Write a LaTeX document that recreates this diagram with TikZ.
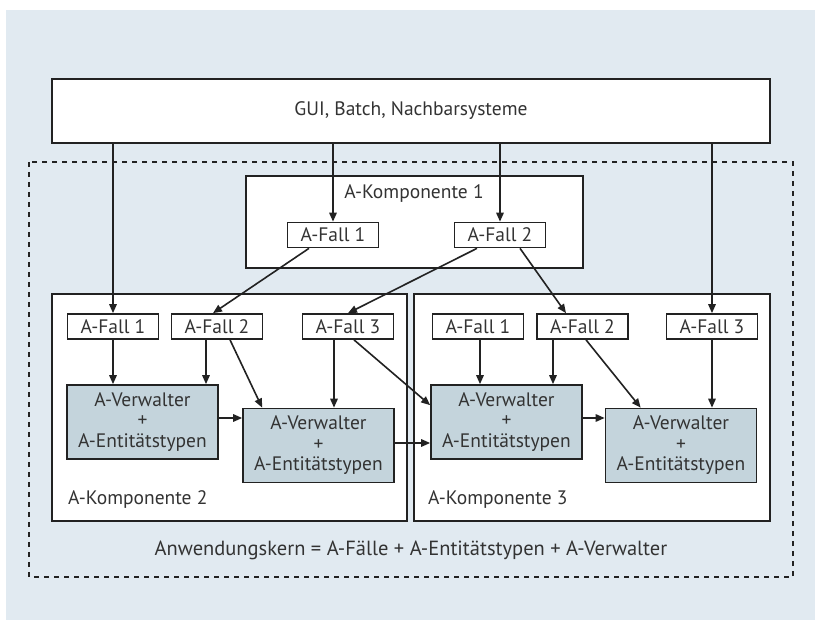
\documentclass[tikz,border=0pt]{standalone}
\usepackage{fontspec}
\setmainfont{PT Sans}
\usetikzlibrary{arrows.meta,calc}
\definecolor{bgblue}{HTML}{E1EAF1}
\definecolor{mgrfill}{HTML}{C4D4DC}
\definecolor{inkline}{HTML}{222222}
\definecolor{inktext}{HTML}{333333}
\tikzset{
  txt/.style={font=\fontsize{19.5}{21}\selectfont, text=inktext},
  plainbox/.style={draw=inkline, line width=1.7pt, fill=white, inner sep=0pt},
  fallbox/.style={plainbox, txt, minimum width=91pt, minimum height=25pt},
  compbox/.style={plainbox, minimum height=227pt},
  mgrbox/.style={draw=inkline, line width=1.7pt, fill=mgrfill, inner sep=0pt,
    txt, align=center, minimum width=151pt, minimum height=74pt,
    font=\fontsize{19.5}{20.5}\selectfont},
  arr/.style={draw=inkline, line width=1.6pt, -{Triangle[length=9pt,width=7.5pt]}},
}
\begin{document}
\begin{tikzpicture}[x=1pt,y=-1pt]
  \useasboundingbox (0,0) rectangle (815,620);
  % background panel
  \fill[bgblue] (6,10) rectangle (815,620);

  % outer system
  \node[plainbox, txt, minimum width=718pt, minimum height=64pt] (gui) at (411,111) {GUI, Batch, Nachbarsysteme};

  % application core boundary
  \draw[inkline, line width=1.4pt, dash pattern=on 5pt off 5pt] (29,162) rectangle (793,577);
  \node[txt, font=\fontsize{20.5}{22}\selectfont] (core) at (411,550) {Anwendungskern = A-Fälle + A-Entitätstypen + A-Verwalter};

  % component 1
  \node[plainbox, minimum width=337pt, minimum height=92pt] (k1) at (414.5,222) {};
  \node[txt] (k1lbl) at (414,194) {A-Komponente 1};
  \node[fallbox] (k1f1) at (333,235) {A-Fall 1};
  \node[fallbox] (k1f2) at (500,235) {A-Fall 2};

  % components 2 and 3
  \node[compbox, minimum width=355pt] (k2) at (229.5,407.5) {};
  \node[compbox, minimum width=356pt] (k3) at (592,407.5) {};
  \node[txt, anchor=base west, inner sep=0pt] (k2lbl) at (68,505) {A-Komponente 2};
  \node[txt, anchor=base west, inner sep=0pt] (k3lbl) at (428,505) {A-Komponente 3};

  % use cases of component 2
  \node[fallbox] (k2f1) at (113,326.5) {A-Fall 1};
  \node[fallbox] (k2f2) at (217,326.5) {A-Fall 2};
  \node[fallbox] (k2f3) at (348,326.5) {A-Fall 3};
  % use cases of component 3
  \node[fallbox] (k3f1) at (478,326.5) {A-Fall 1};
  \node[fallbox] (k3f2) at (582.5,326.5) {A-Fall 2};
  \node[fallbox] (k3f3) at (712,326.5) {A-Fall 3};

  % managers and entity types
  \node[mgrbox] (k2v1) at (142.5,422) {A-Verwalter\\+\\A-Entitätstypen};
  \node[mgrbox] (k2v2) at (318.5,445.5) {A-Verwalter\\+\\A-Entitätstypen};
  \node[mgrbox] (k3v1) at (506.5,422) {A-Verwalter\\+\\A-Entitätstypen};
  \node[mgrbox] (k3v2) at (681,445.5) {A-Verwalter\\+\\A-Entitätstypen};

  % calls from the outer systems
  \draw[arr] (gui.south -| k2f1.north) -- (k2f1.north);
  \draw[arr] (gui.south -| k1f1.north) -- (k1f1.north);
  \draw[arr] (gui.south -| k1f2.north) -- (k1f2.north);
  \draw[arr] (gui.south -| k3f3.north) -- (k3f3.north);

  % calls from component 1
  \draw[arr] ($(k1f1.south)+(-24,0)$) -- ($(k2f2.north)+(-4,0)$);
  \draw[arr] ($(k1f2.south)+(-23,0)$) -- (k2f3.north);
  \draw[arr] ($(k1f2.south)+(20,0)$) -- ($(k3f2.north)+(-16.5,0)$);

  % inside component 2
  \draw[arr] (k2f1.south) -- (k2f1.south |- k2v1.north);
  \draw[arr] ($(k2f2.south)+(-11,0)$) -- ($(k2f2.south |- k2v1.north)+(-11,0)$);
  \draw[arr] ($(k2f2.south)+(13,0)$) -- ($(k2v2.north west)+(20,0)$);
  \draw[arr] ($(k2f3.south)+(-14,0)$) -- ($(k2f3.south |- k2v2.north)+(-14,0)$);
  \draw[arr] ($(k2f3.south)+(6,0)$) -- ($(k3v1.north west)+(0,21)$);
  \draw[arr] (k2v1.east |- 0,418) -- (k2v2.west |- 0,418);
  \draw[arr] (k2v2.east |- 0,443) -- (k3v1.west |- 0,443);

  % inside component 3
  \draw[arr] ($(k3f1.south)+(2,0)$) -- ($(k3f1.south |- k3v1.north)+(2,0)$);
  \draw[arr] ($(k3f2.south)+(-29.5,0)$) -- ($(k3f2.south |- k3v1.north)+(-29.5,0)$);
  \draw[arr] ($(k3f2.south)+(3.5,0)$) -- ($(k3v2.north west)+(36,0)$);
  \draw[arr] (k3f3.south) -- (k3f3.south |- k3v2.north);
  \draw[arr] (k3v1.east |- 0,418) -- (k3v2.west |- 0,418);
\end{tikzpicture}
\end{document}
